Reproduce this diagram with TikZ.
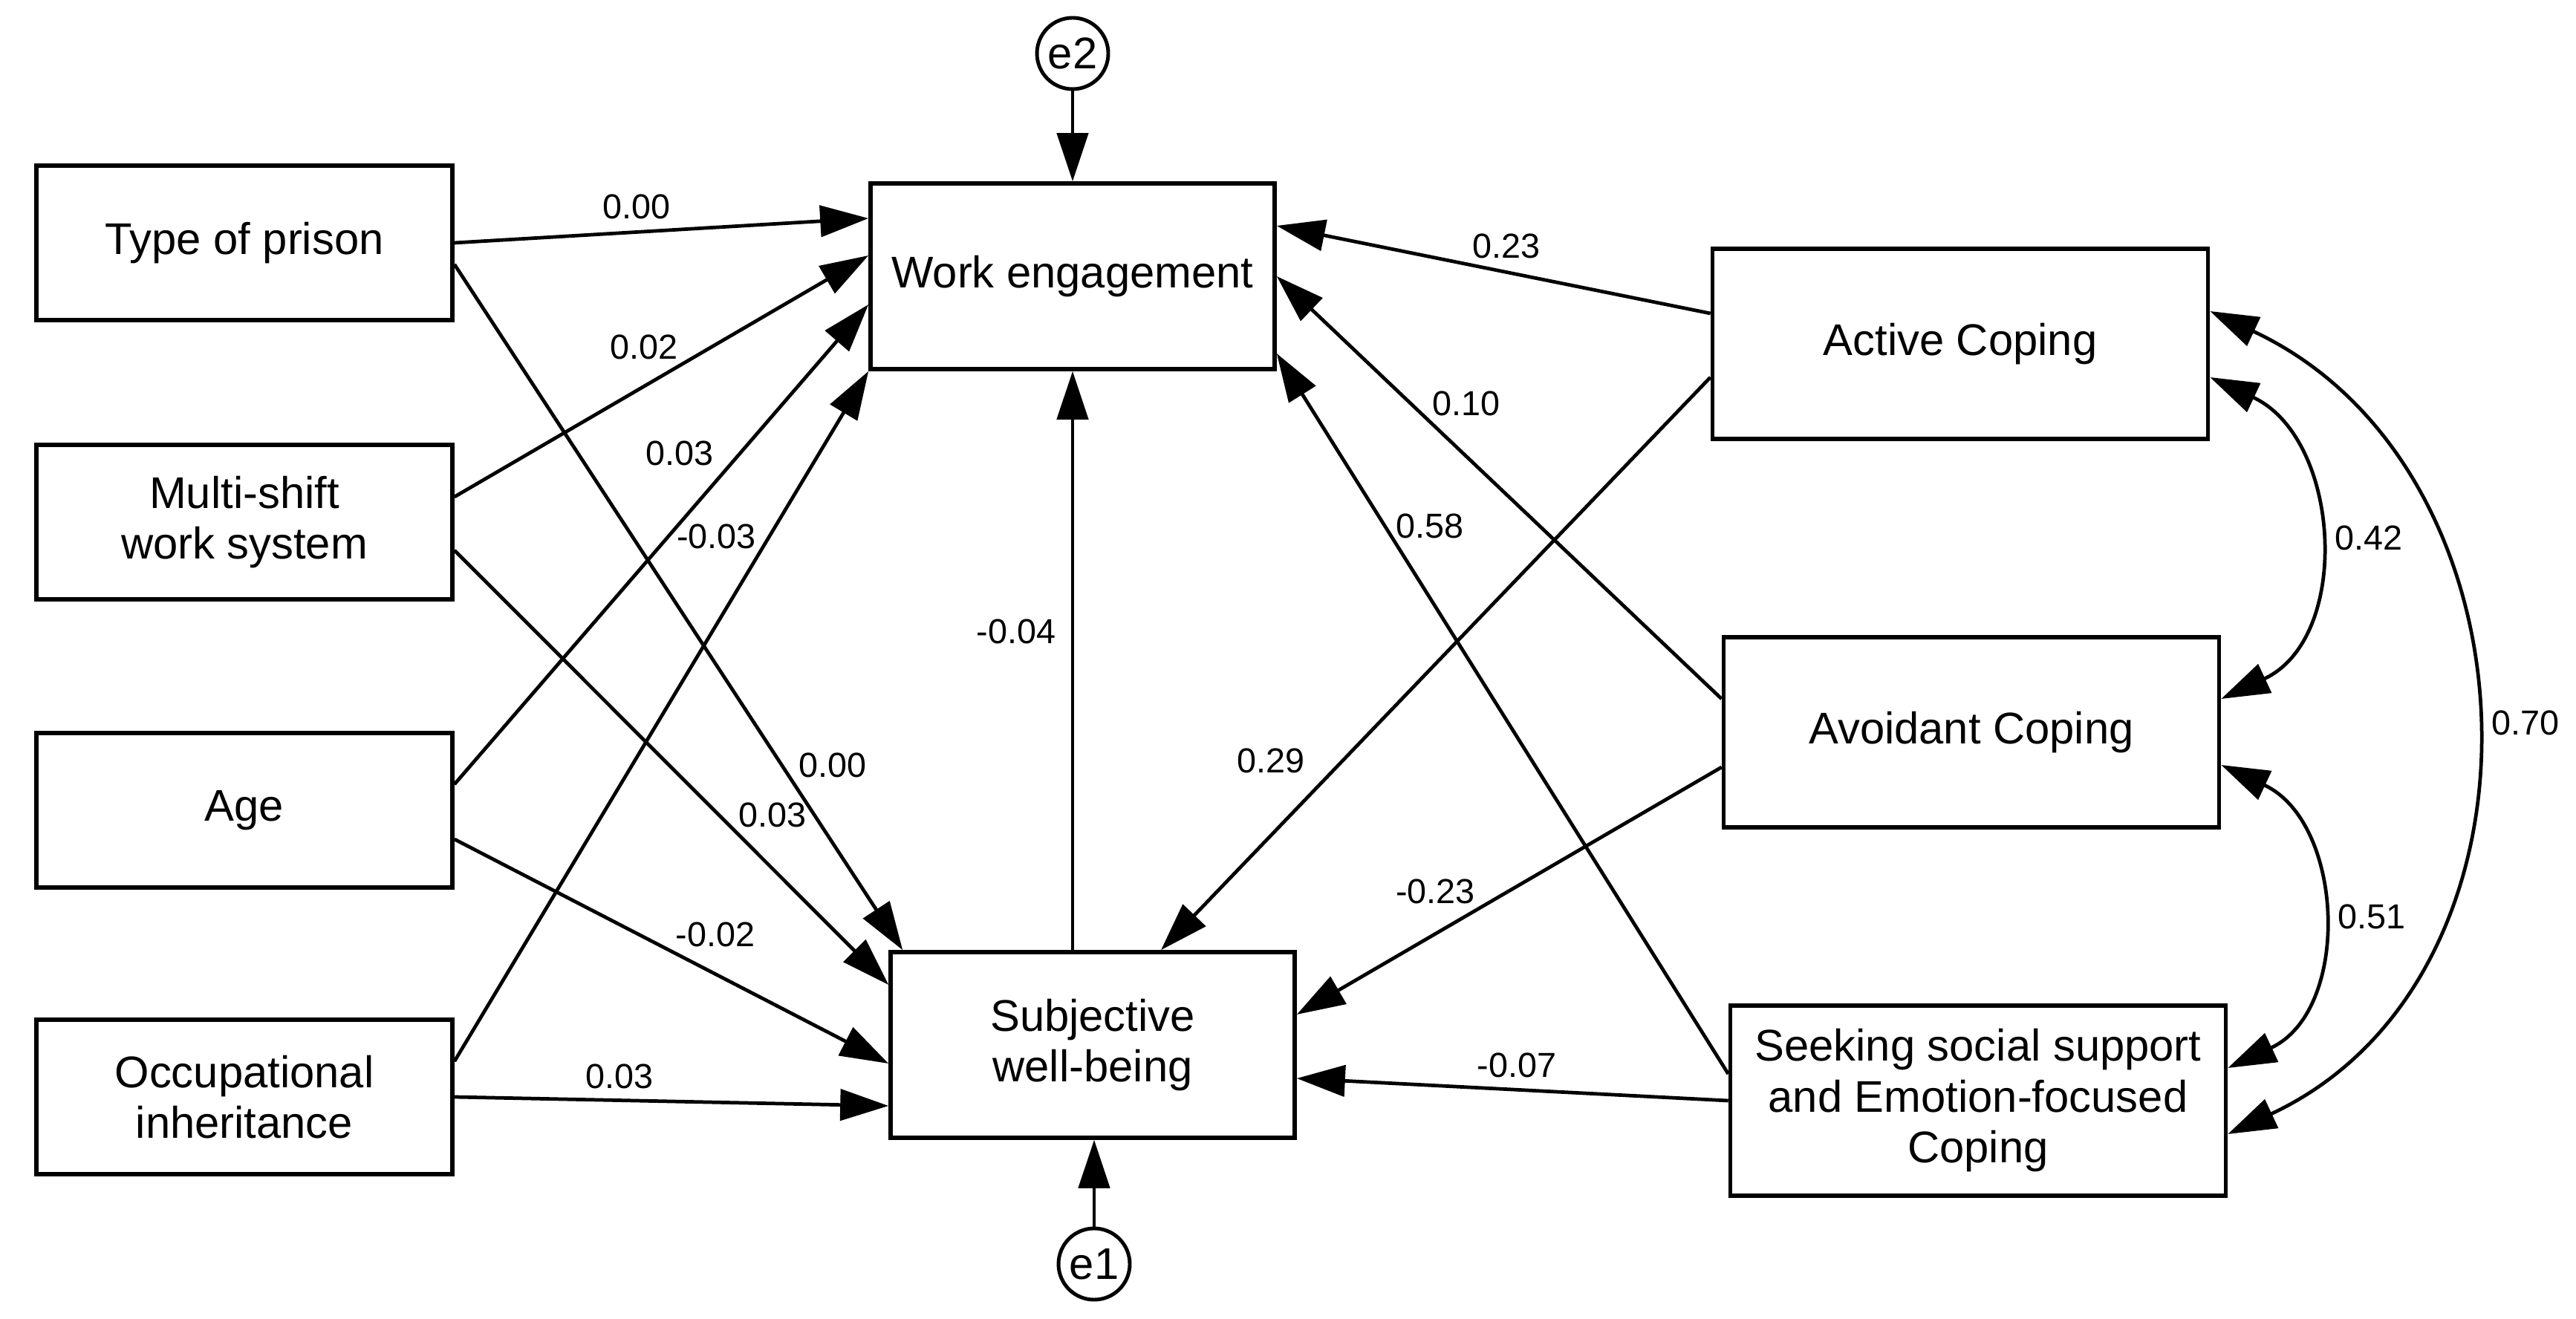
\documentclass[tikz,border=0pt]{standalone}
\usepackage{fontspec}
\setmainfont{Liberation Sans}
\usetikzlibrary{arrows.meta}

\begin{document}
\begin{tikzpicture}[
  varbox/.style={draw, line width=1.6pt, align=center, inner sep=0pt, font=\fontsize{17}{19.5}\selectfont},
  leftbox/.style={varbox, minimum width=5.6cm, minimum height=2.08cm},
  midbox/.style={varbox, minimum width=5.44cm, minimum height=2.5cm},
  rightbox/.style={varbox, minimum width=6.67cm, minimum height=2.56cm},
  err/.style={draw, circle, line width=1.4pt, minimum size=0.96cm, inner sep=0pt, font=\fontsize{17}{19.5}\selectfont},
  arr/.style={-{Triangle[length=6.5mm, width=4.2mm]}, line width=1.35pt, every node/.style={font=\fontsize{13.3}{15}\selectfont, inner sep=1pt}},
  cov/.style={arr, {Triangle[length=6.5mm, width=4.2mm]}-{Triangle[length=6.5mm, width=4.2mm]}, out=-25, in=25, looseness=1.15}
]
\useasboundingbox (0,0) rectangle (34.68,17.75);
% nodes
\node[leftbox] (tp) at (3.29, 14.48) {Type of prison};
\node[leftbox] (ms) at (3.29, 10.72) {Multi-shift\\work system};
\node[leftbox] (age) at (3.29, 6.84) {Age};
\node[leftbox] (occ) at (3.29, 2.98) {Occupational\\inheritance};
\node[midbox] (we) at (14.44, 14.03) {Work engagement};
\node[midbox] (swb) at (14.71, 3.68) {Subjective\\well-being};
\node[rightbox] (ac) at (26.39, 13.12) {Active Coping};
\node[rightbox] (av) at (26.54, 7.89) {Avoidant Coping};
\node[rightbox] (ss) at (26.63, 2.93) {Seeking social support\\and Emotion-focused\\Coping};
\node[err] (e2) at (14.44, 17.03) {e2};
\node[err] (e1) at (14.73, 0.73) {e1};
% arrows
\draw[arr] (tp.east) --node[pos=0.44, above=1.2mm]{0.00} ([yshift=7.8mm]we.west);
\draw[arr] ([yshift=-2.9mm]tp.east) --node[pos=0.73, right=1.7mm]{0.00} ([xshift=1.9mm]swb.north west);
\draw[arr] ([yshift=3.4mm]ms.east) --node[pos=0.55, above left]{0.02} ([yshift=2.8mm]we.west);
\draw[arr] ([yshift=-3.8mm]ms.east) --node[pos=0.61, right=2mm]{0.03} ([yshift=8.1mm]swb.west);
\draw[arr] ([yshift=3.5mm]age.east) --node[pos=0.69, left=3mm]{0.03} ([yshift=-3.8mm]we.west);
\draw[arr] ([yshift=-3.9mm]age.east) --node[pos=0.5, above right]{-0.02} ([yshift=-2.5mm]swb.west);
\draw[arr] ([yshift=4.8mm]occ.east) --node[pos=0.76, left=1.2mm]{-0.03} (we.south west);
\draw[arr] (occ.east) --node[pos=0.38, above=1mm]{0.03} ([yshift=-8.2mm]swb.west);
\draw[arr] (swb.north -| we.south) --node[pos=0.55, left=1.7mm]{-0.04} (we.south);
\draw[arr] ([yshift=4.1mm]ac.west) --node[pos=0.47, above=1.3mm]{0.23} ([yshift=6.8mm]we.east);
\draw[arr] ([yshift=-4.5mm]ac.west) --node[pos=0.67, left=4.5mm]{0.29} ([xshift=9.2mm]swb.north);
\draw[arr] ([yshift=4.5mm]av.west) --node[pos=0.66, above right]{0.10} (we.east);
\draw[arr] ([yshift=-4.7mm]av.west) --node[pos=0.57, above left]{-0.23} ([yshift=4.1mm]swb.east);
\draw[arr] ([yshift=3.6mm]ss.west) --node[pos=0.76, right=0.9mm]{0.58} ([yshift=-10.4mm]we.east);
\draw[arr] (ss.west) --node[pos=0.49, above=1mm]{-0.07} ([yshift=-4.5mm]swb.east);
\draw[arr] (e2) -- (e2 |- we.north);
\draw[arr] (e1) -- (e1 |- swb.south);
% covariances
\draw[cov] ([yshift=-4.5mm]ac.east) to node[right=2.2mm]{0.42} ([yshift=4.5mm]av.east);
\draw[cov] ([yshift=-4.4mm]av.east) to node[right=2.2mm]{0.51} ([yshift=4.4mm]ss.east);
\draw[cov] ([yshift=4.4mm]ac.east) to node[right=2.2mm]{0.70} ([yshift=-4.5mm]ss.east);
\end{tikzpicture}
\end{document}
